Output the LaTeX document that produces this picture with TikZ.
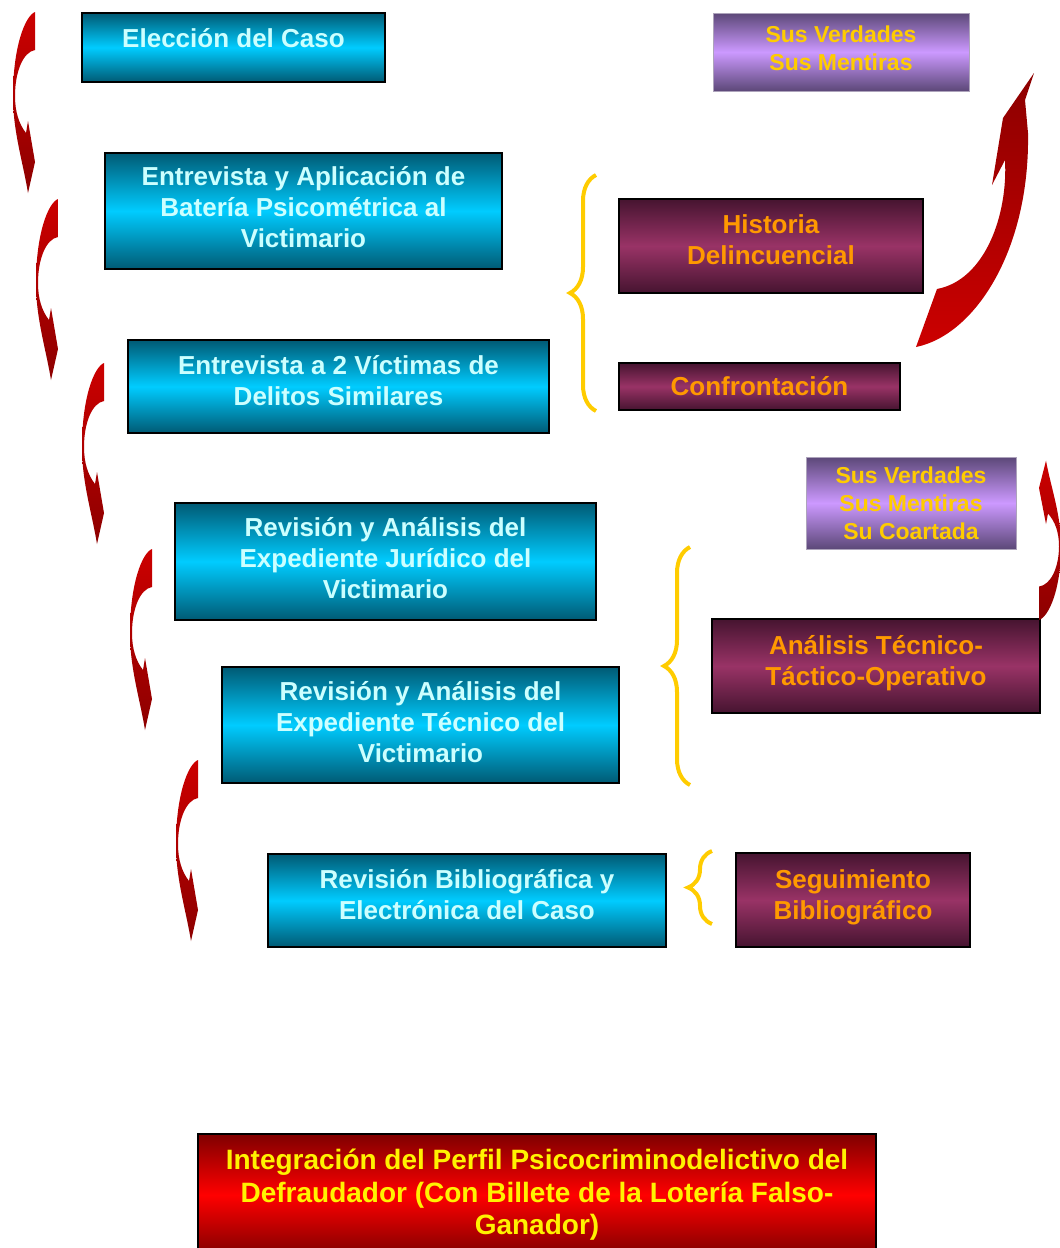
\documentclass[tikz,border=0pt]{standalone}
\usepackage{fontspec}
\setmainfont{Liberation Sans}
\usetikzlibrary{decorations.pathreplacing}

\definecolor{cyanmid}{HTML}{00CCFF}
\definecolor{cyandark}{HTML}{005A74}
\definecolor{cyantext}{HTML}{CCFFFF}
\definecolor{winemid}{HTML}{993366}
\definecolor{winedark}{HTML}{461430}
\definecolor{winetext}{HTML}{FF9900}
\definecolor{lilacmid}{HTML}{CC99FF}
\definecolor{lilacdark}{HTML}{5C4878}
\definecolor{lilactext}{HTML}{FFCC00}
\definecolor{bracecol}{HTML}{FFCC00}

\begin{document}
\begin{tikzpicture}[x=0.5pt,y=-0.5pt,
    stepbox/.style={draw=black, line width=1pt, align=center, inner sep=3pt,
        font=\fontsize{13}{15.5}\selectfont\bfseries},
    cyanbox/.style={stepbox, top color=cyandark, bottom color=cyandark,
        middle color=cyanmid, text=cyantext},
    winebox/.style={stepbox, top color=winedark, bottom color=winedark,
        middle color=winemid, text=winetext},
    lilacbox/.style={stepbox, draw=lilacdark!50, line width=0.5pt, inner sep=1pt,
        top color=lilacdark, bottom color=lilacdark, middle color=lilacmid,
        text=lilactext, font=\fontsize{11.5}{14}\selectfont\bfseries},
    redbox/.style={stepbox, top color=red!50!black, bottom color=red!50!black,
        middle color=red, text=yellow, font=\fontsize{14}{16.25}\selectfont\bfseries},
    lift/.style={text depth=#1},
    curly/.style={bracecol, line width=2pt, decorate},
    bentarrow/.pic={
        \shade[top color=red!80!black, middle color=red, bottom color=red!55!black]
            (0,0) .. controls (-10,4) and (-22,35) .. (-22,84)
            .. controls (-22,120) and (-12,150) .. (-7,181)
            -- (0,150) -- (-7,109) -- (-9,121)
            .. controls (-16,112) and (-20,100) .. (-20,84)
            .. controls (-20,60) and (-12,40) .. (0,38) -- cycle;
    }]

\useasboundingbox (0,0) rectangle (1060,1248);

% Steps of the case study
\node[cyanbox,
    minimum width=151.5pt,
    minimum height=34.5pt,
    text height=14pt,
    text depth=14.5pt] (eleccion) at (233.5,47.5) {Elección del Caso};

\node[cyanbox, lift=4pt,
    minimum width=198.5pt,
    minimum height=58pt] (bateria) at (303.5,211)
    {Entrevista y Aplicación de\\ Batería Psicométrica al\\ Victimario};

\node[cyanbox, lift=6.5pt,
    minimum width=210.5pt,
    minimum height=46.5pt] (victimas) at (338.5,386.5)
    {Entrevista a 2 Víctimas de\\ Delitos Similares};

\node[cyanbox, lift=3.5pt,
    minimum width=210.5pt,
    minimum height=58.5pt] (juridico) at (385.5,561.5)
    {Revisión y Análisis del\\ Expediente Jurídico del\\ Victimario};

\node[cyanbox, lift=3.5pt,
    minimum width=198.5pt,
    minimum height=58pt] (tecnico) at (420.5,725)
    {Revisión y Análisis del\\ Expediente Técnico del\\ Victimario};

\node[cyanbox, lift=6.5pt,
    minimum width=199pt,
    minimum height=46.5pt] (biblio) at (467,900.5)
    {Revisión Bibliográfica y\\ Electrónica del Caso};

% Results on the right
\node[lilacbox, lift=4pt,
    minimum width=128pt,
    minimum height=39pt] (verdades) at (841,52)
    {Sus Verdades\\ Sus Mentiras};

\node[winebox, lift=6pt,
    minimum width=152pt,
    minimum height=47pt] (historia) at (771,246)
    {Historia\\ Delincuencial};

\node[winebox,
    minimum width=140.5pt,
    minimum height=23.5pt] (confront) at (759.5,386.5)
    {Confrontación};

\node[lilacbox,
    minimum width=105pt,
    minimum height=46pt] (coartada) at (911,503)
    {Sus Verdades\\ Sus Mentiras\\ Su Coartada};

\node[winebox, lift=5.7pt,
    minimum width=164pt,
    minimum height=47pt] (analisis) at (876,666)
    {Análisis Técnico-\\ Táctico-Operativo};

\node[winebox, lift=5.7pt,
    minimum width=117pt,
    minimum height=47pt] (seguim) at (853,900)
    {Seguimiento\\ Bibliográfico};

% Final profile
\node[redbox,
    minimum width=339pt,
    minimum height=61pt] (perfil) at (537,1195)
    {Integración del Perfil Psicocriminodelictivo del\\
     Defraudador (Con Billete de la Lotería Falso-\\ Ganador)};

% Curved arrows between the steps
\pic at (35,12) {bentarrow};
\pic at (58,199) {bentarrow};
\pic at (104,363) {bentarrow};
\pic at (152,549) {bentarrow};
\pic at (198,760) {bentarrow};
\pic[xscale=-1,yscale=-0.88] at (1039,620) {bentarrow};

\shade[top color=red!55!black, middle color=red, bottom color=red!80!black]
    (916,347) .. controls (975,335) and (1030,250) .. (1028,133)
    -- (1025,100) -- (1034,73) -- (1003,118) -- (992,185) -- (1005,160)
    .. controls (1008,215) and (985,280) .. (937,289) -- cycle;

% Braces
\draw[curly, decoration={brace, amplitude=13pt}] (596,411) -- (596,175);
\draw[curly, decoration={brace, amplitude=13pt}] (690,785) -- (690,547);
\draw[curly, decoration={brace, amplitude=12pt}] (712,924) -- (712,851);

\end{tikzpicture}
\end{document}
